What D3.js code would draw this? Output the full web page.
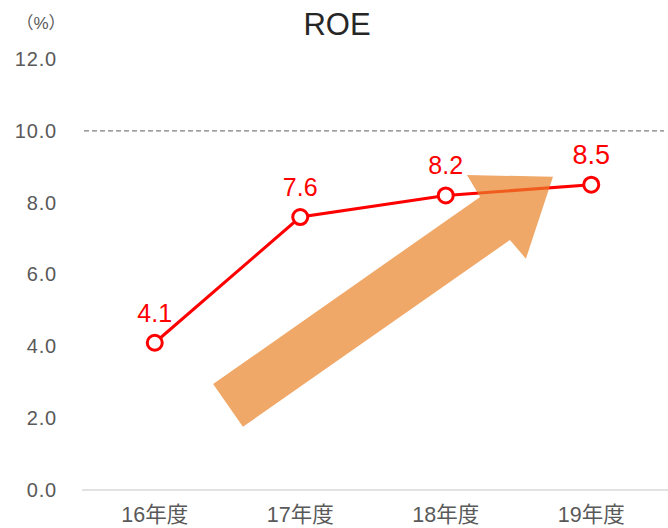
<!DOCTYPE html>
<html>
<head>
<meta charset="utf-8">
<script src="https://cdn.jsdelivr.net/npm/d3@7"></script>
<style>
  body { margin: 0; background: #fff; }
  text { font-family: "Liberation Sans", Arial, "Noto Sans CJK JP", sans-serif; }
</style>
</head>
<body>
<div id="vis"></div>
<script>
var categories = ["16年度", "17年度", "18年度", "19年度"];
var roeValues = [4.1, 7.6, 8.2, 8.5];
var yTicks = [0, 2, 4, 6, 8, 10, 12];
var targetValue = 10;
// decorative arrow, in (category index, value) space
var arrowPoints = [[0.401, 2.95], [2.236, 8.16], [2.146, 8.77], [2.737, 8.72],
                   [2.551, 6.44], [2.441, 6.96], [0.606, 1.76]];

var width = 668, height = 528;
var svg = d3.select("#vis").append("svg")
    .attr("width", width)
    .attr("height", height);

var xBand = d3.scaleBand()
    .domain(categories)
    .range([82, 664]);

var xIdx = d3.scaleLinear()
    .domain([0, categories.length - 1])
    .range([xBand(categories[0]) + xBand.bandwidth() / 2,
            xBand(categories[categories.length - 1]) + xBand.bandwidth() / 2]);

var yScale = d3.scaleLinear()
    .domain([0, 12])
    .range([490, 59]);

// y axis labels
var yAxis = d3.axisLeft(yScale)
    .tickValues(yTicks)
    .tickFormat(d3.format(".1f"))
    .tickSize(0)
    .tickPadding(0);

svg.append("g")
    .attr("transform", "translate(57,0)")
    .call(yAxis)
    .call(function(g) { g.select(".domain").remove(); })
    .selectAll("text")
    .attr("font-size", 20)
    .attr("letter-spacing", 0.8)
    .attr("fill", "#595959")
    .attr("font-family", "Liberation Sans, Arial, sans-serif");

// x axis
var xAxis = d3.axisBottom(xBand).tickSize(0).tickPadding(0);
var xg = svg.append("g")
    .attr("transform", "translate(0," + yScale(0) + ")")
    .call(xAxis);

xg.select(".domain")
    .attr("stroke", "#d9d9d9")
    .attr("stroke-width", 1.5)
    .attr("d", "M82,0H668");

xg.selectAll("text")
    .attr("font-size", 21.5)
    .attr("fill", "#595959")
    .attr("dy", 0)
    .attr("y", 32)
    .attr("font-family", "Liberation Sans, Arial, Noto Sans CJK JP, sans-serif");

// dashed target line
svg.append("line")
    .attr("x1", 84)
    .attr("x2", 664)
    .attr("y1", yScale(targetValue))
    .attr("y2", yScale(targetValue))
    .attr("stroke", "#7f7f7f")
    .attr("stroke-width", 1.3)
    .attr("stroke-dasharray", "5,3");

// the line
var line = d3.line()
    .x(function(d, i) { return xIdx(i); })
    .y(function(d) { return yScale(d); });

svg.append("path")
    .datum(roeValues)
    .attr("fill", "none")
    .attr("stroke", "#ff0000")
    .attr("stroke-width", 3)
    .attr("d", line);

// value labels
svg.selectAll(".val")
    .data(roeValues)
    .enter().append("text")
    .attr("class", "val")
    .attr("x", function(d, i) { return xIdx(i); })
    .attr("y", function(d) { return yScale(d) - 21; })
    .attr("text-anchor", "middle")
    .attr("font-size", function(d, i) { return i == roeValues.length - 1 ? 27 : 25; })
    .attr("fill", "#ff0000")
    .text(function(d) { return d.toFixed(1); });

// arrow (drawn over the line, under the markers)
svg.append("path")
    .datum(arrowPoints)
    .attr("fill", "#ea8329")
    .attr("fill-opacity", 0.7)
    .attr("d", d3.line()
        .x(function(d) { return xIdx(d[0]); })
        .y(function(d) { return yScale(d[1]); })
        .curve(d3.curveLinearClosed));

// markers
svg.selectAll(".dot")
    .data(roeValues)
    .enter().append("circle")
    .attr("class", "dot")
    .attr("cx", function(d, i) { return xIdx(i); })
    .attr("cy", function(d) { return yScale(d); })
    .attr("r", 7.5)
    .attr("fill", "#fff")
    .attr("stroke", "#ff0000")
    .attr("stroke-width", 3);

// title and unit
svg.append("text")
    .attr("x", 337)
    .attr("y", 35)
    .attr("text-anchor", "middle")
    .attr("font-size", 31)
    .attr("fill", "#262626")
    .text("ROE");

svg.append("text")
    .attr("x", 41)
    .attr("y", 29)
    .attr("text-anchor", "middle")
    .attr("font-size", 17)
    .attr("fill", "#595959")
    .attr("font-family", "Noto Sans CJK JP, sans-serif")
    .text("（%）");
</script>
</body>
</html>
